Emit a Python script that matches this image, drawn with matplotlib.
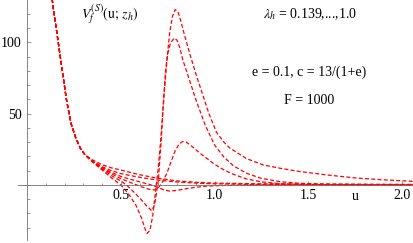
import matplotlib.pyplot as plt
import numpy as np
from matplotlib.ticker import FixedLocator

plt.rcParams['font.family'] = ['Liberation Serif', 'DejaVu Serif']
plt.rcParams['mathtext.fontset'] = 'stix'

# shared left branch (all curves coincide here)
u_head = [0.125, 0.14, 0.16, 0.185, 0.21, 0.235, 0.26, 0.285, 0.31]
v_head = [140, 124, 106, 83, 60, 43, 33, 25.5, 21]

# individual branches, lambda_h = 0.139 ... 1.0
u_p = [0.35, 0.40, 0.45, 0.50, 0.54, 0.58, 0.61, 0.63, 0.64, 0.655, 0.67, 0.685, 0.70, 0.715,
       0.73, 0.745, 0.76, 0.775, 0.79, 0.805, 0.82, 0.84, 0.87, 0.90, 0.94, 0.97, 1.01, 1.05,
       1.08, 1.17, 1.26, 1.35, 1.45, 1.6, 1.76, 1.9, 2.06]
v_p = [16, 10.5, 5, 0, -6, -14, -23, -31, -34, -32, -22, -5, 12, 35,
       62, 86, 106, 118, 123, 121.5, 115, 105, 91, 78, 62, 50, 37, 30,
       26, 18.5, 14, 11.7, 9.5, 7, 4.8, 3.6, 2.5]

u_q = [0.35, 0.40, 0.45, 0.50, 0.53, 0.57, 0.61, 0.64, 0.665, 0.68, 0.69, 0.70, 0.715, 0.727,
       0.738, 0.75, 0.765, 0.785, 0.80, 0.815, 0.83, 0.86, 0.88, 0.90, 0.95, 1.0, 1.05, 1.1,
       1.17, 1.25, 1.35, 1.45, 1.6, 1.8, 2.06]
v_q = [16.2, 11.2, 6.5, 2.8, 0, -5, -10.5, -15, -18, -14, -6, 3, 30, 57,
       79, 92, 99.5, 103, 101.5, 96, 88, 76, 68, 60, 42, 28, 19.5, 13.5,
       8.2, 4.6, 2.3, 1.2, 0.6, 0.3, 0.12]

u_c = [0.35, 0.40, 0.45, 0.50, 0.55, 0.60, 0.65, 0.68, 0.70, 0.72, 0.745, 0.77, 0.79, 0.81,
       0.83, 0.85, 0.88, 0.92, 0.96, 1.0, 1.05, 1.1, 1.17, 1.25, 1.35, 1.5, 1.7, 2.06]
v_c = [16.4, 11.8, 7.8, 4.5, 1.8, -0.8, -3, -3.5, -2, 1.5, 8, 17, 24, 28.5,
       30.5, 30, 27, 22.5, 18.5, 14.5, 10.5, 7.5, 4.2, 2.2, 0.9, 0.3, 0.1, 0.03]

u_d = [0.35, 0.40, 0.45, 0.50, 0.55, 0.60, 0.65, 0.70, 0.73, 0.76, 0.80, 0.85, 0.90, 0.96,
       1.05, 1.2, 1.5, 2.06]
v_d = [16.6, 12.3, 8.8, 6, 4, 2.2, 0.5, -1.8, -3.5, -4.3, -3.8, -2.6, -1.6, -0.8,
       -0.35, -0.1, 0, 0]

u_e = [0.35, 0.40, 0.45, 0.50, 0.55, 0.60, 0.65, 0.70, 0.75, 0.80, 0.90, 1.0, 1.2, 1.5, 2.06]
v_e = [16.8, 12.8, 10, 8, 6.6, 5.4, 4.3, 3.4, 2.7, 2.1, 1.3, 0.8, 0.35, 0.15, 0.05]

u_f = [0.35, 0.40, 0.45, 0.50, 0.55, 0.60, 0.65, 0.70, 0.75, 0.80, 0.90, 1.0, 1.2, 1.5, 2.06]
v_f = [17.5, 14.2, 12, 10.5, 8.8, 7.2, 5.9, 4.6, 3.8, 2.8, 1.9, 1.3, 0.9, 0.6, 0.4]

branches = [(u_p, v_p), (u_q, v_q), (u_c, v_c), (u_d, v_d), (u_e, v_e), (u_f, v_f)]

fig = plt.figure(figsize=(4.13, 2.43), dpi=100)
ax = fig.add_axes([0, 0, 1, 1])
ax.set_xlim(-0.144, 2.058)
ax.set_ylim(-40.7, 129.7)

for ub, vb in branches:
    uu = u_head + ub
    vv = v_head + vb
    ax.plot(uu, vv, color='#ff0000', lw=0.9, linestyle=(0, (3.2, 1.8)))

# Mathematica-style axes through the origin
for s in ['top', 'right']:
    ax.spines[s].set_visible(False)
ax.spines['left'].set_position(('data', 0))
ax.spines['bottom'].set_position(('data', 0))
ax.spines['left'].set_bounds(-38.5, 129.7)
ax.spines['bottom'].set_bounds(-0.05, 2.058)
for s in ['left', 'bottom']:
    ax.spines[s].set_color('#707070')
    ax.spines[s].set_linewidth(0.6)

ax.xaxis.set_major_locator(FixedLocator([0.5, 1.0, 1.5, 2.0]))
ax.xaxis.set_minor_locator(FixedLocator([x / 10 for x in range(1, 21)]))
ax.yaxis.set_major_locator(FixedLocator([50, 100]))
ax.yaxis.set_minor_locator(FixedLocator([y for y in range(-30, 130, 10)]))
ax.set_xticklabels(['0.5', '1.0', '1.5', '2.0'])
ax.set_yticklabels(['50', '100'])
ax.tick_params(which='both', direction='in', color='#707070', width=0.5, labelsize=10)
ax.tick_params(which='major', length=3.2)
ax.tick_params(which='minor', length=1.8)
ax.tick_params(axis='x', pad=3)
ax.tick_params(axis='y', pad=4)

ax.text(1.748, -8.4, 'u', fontsize=10, ha='center', va='center')
ax.text(110 / 413, 1 - 14 / 243, r'$V_f^{(S)}(\mathrm{u};\, z_h)$', transform=ax.transAxes,
        fontsize=10, ha='center', va='center')
ax.text(310 / 413, 1 - 14 / 243, r'$\lambda_h$ = 0.139,...,1.0', transform=ax.transAxes,
        fontsize=10, ha='center', va='center')
ax.text(309 / 413, 1 - 72 / 243, 'e = 0.1, c = 13/(1+e)', transform=ax.transAxes,
        fontsize=10, ha='center', va='center')
ax.text(309.5 / 413, 1 - 100 / 243, 'F = 1000', transform=ax.transAxes,
        fontsize=10, ha='center', va='center')

fig.savefig('out.png', dpi=100)
